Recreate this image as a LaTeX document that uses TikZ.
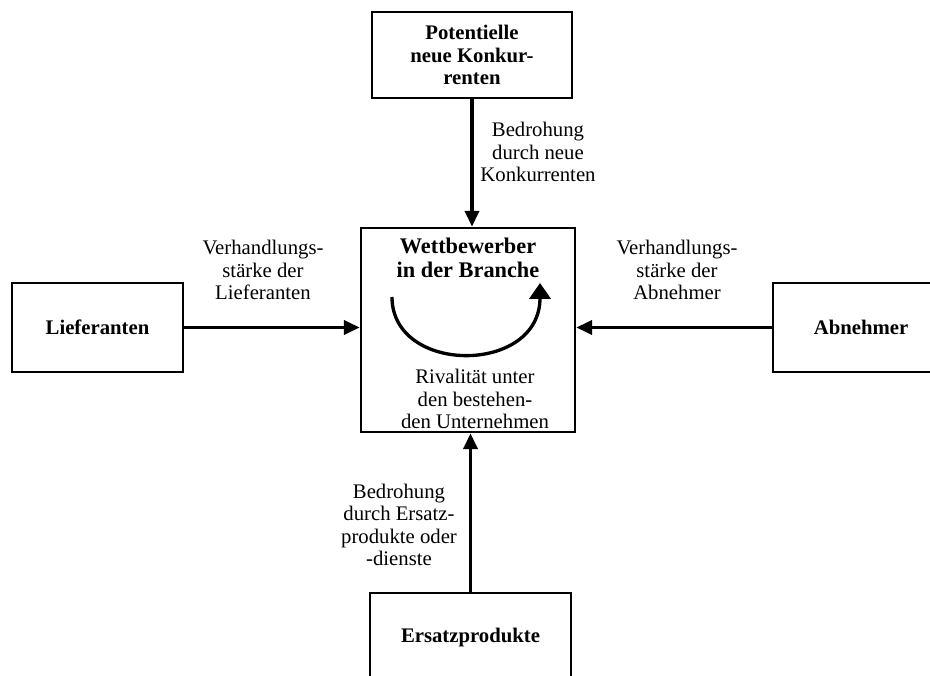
\documentclass[tikz,border=0pt]{standalone}
\usepackage{fontspec}
\setmainfont{Liberation Serif}
\usetikzlibrary{arrows.meta}

\begin{document}
\begin{tikzpicture}[x=0.02cm, y=-0.02cm,
  box/.style={draw, line width=1.5pt, align=center, inner sep=0pt, font=\fontsize{11.8}{13}\selectfont\bfseries},
  lbl/.style={align=center, inner sep=0pt, font=\fontsize{11.8}{12.8}\selectfont},
  force/.style={line width=2pt, -{Triangle[length=9pt, width=8pt]}}]
\clip (0,0) rectangle (930,676);

\node[box, minimum width=4cm, minimum height=1.72cm] (neue) at (472,55) {Potentielle\\neue Konkur-\\renten};
\node[box, minimum width=3.42cm, minimum height=1.78cm] (lief) at (97.5,327.5) {Lieferanten};
\node[box, minimum width=3.52cm, minimum height=1.78cm] (abn) at (861,327.5) {Abnehmer};
\node[box, minimum width=4.02cm, minimum height=1.8cm] (ersatz) at (470.5,638) {Ersatzprodukte};
\node[box, minimum width=4.28cm, minimum height=4.08cm] (rival) at (468,330) {};

\node[box, draw=none, font=\fontsize{12.7}{13.8}\selectfont\bfseries] (title) at (468,258) {Wettbewerber\\in der Branche};
\node[lbl] (rivtext) at (475,399) {Rivalität unter\\den bestehen-\\den Unternehmen};
\draw[line width=1.9pt, -{Triangle[length=9pt, width=12pt]}] (392,297) .. controls (392,375) and (540,375) .. (540,283);

\node[lbl] (l1) at (538,152) {Bedrohung\\durch neue\\Konkurrenten};
\node[lbl] (l2) at (263,270) {Verhandlungs-\\stärke der\\Lieferanten};
\node[lbl] (l3) at (677,270) {Verhandlungs-\\stärke der\\Abnehmer};
\node[lbl] (l4) at (399,525) {Bedrohung\\durch Ersatz-\\produkte oder\\-dienste};

\draw[force] (neue.south) -- (neue.south |- rival.north);
\draw[force] (lief.east) -- (lief.east -| rival.west);
\draw[force] (abn.west) -- (abn.west -| rival.east);
\draw[force] (ersatz.north) -- (ersatz.north |- rival.south);
\end{tikzpicture}
\end{document}
